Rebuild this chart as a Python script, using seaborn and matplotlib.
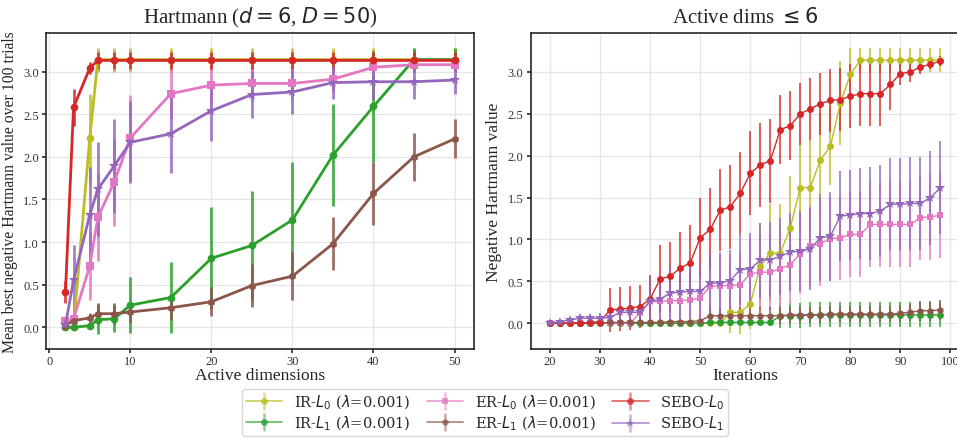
import numpy as np
import pandas as pd
import matplotlib
matplotlib.use("Agg")
import matplotlib.pyplot as plt
from matplotlib.lines import Line2D
from matplotlib.legend_handler import HandlerTuple
import seaborn as sns

# ---------------- data: sweep over active dimensions ----------------
dims = [2, 3, 5, 6, 8, 10, 15, 20, 25, 30, 35, 40, 45, 50]

ir_l0_dims = [0.0, 0.0, 2.22, 3.14, 3.14, 3.14, 3.14, 3.14, 3.14, 3.14, 3.14, 3.14, 3.14, 3.14]
ir_l0_dims_err = [0.01, 0.01, 0.52, 0.14, 0.14, 0.14, 0.14, 0.14, 0.14, 0.14, 0.14, 0.14, 0.14, 0.14]

ir_l1_dims = [0.0, 0.0, 0.02, 0.09, 0.10, 0.26, 0.35, 0.81, 0.96, 1.26, 2.02, 2.59, 3.14, 3.14]
ir_l1_dims_err = [0.01, 0.01, 0.03, 0.17, 0.16, 0.33, 0.42, 0.60, 0.64, 0.68, 0.60, 0.65, 0.14, 0.14]

er_l0_dims = [0.07, 0.10, 0.72, 1.29, 1.70, 2.22, 2.74, 2.84, 2.86, 2.86, 2.91, 3.05, 3.08, 3.08]
er_l0_dims_err = [0.03, 0.05, 0.40, 0.51, 0.51, 0.50, 0.30, 0.22, 0.20, 0.18, 0.14, 0.10, 0.08, 0.08]

er_l1_dims = [0.02, 0.08, 0.11, 0.16, 0.16, 0.18, 0.23, 0.30, 0.49, 0.60, 0.98, 1.57, 2.00, 2.21]
er_l1_dims_err = [0.02, 0.03, 0.06, 0.12, 0.12, 0.12, 0.14, 0.17, 0.25, 0.28, 0.31, 0.37, 0.28, 0.23]

sebo_l0_dims = [0.41, 2.58, 3.04, 3.13, 3.13, 3.13, 3.13, 3.13, 3.13, 3.13, 3.13, 3.13, 3.13, 3.13]
sebo_l0_dims_err = [0.13, 0.22, 0.07, 0.10, 0.10, 0.10, 0.10, 0.10, 0.10, 0.10, 0.10, 0.10, 0.10, 0.10]

sebo_l1_dims = [0.03, 0.55, 1.32, 1.62, 1.89, 2.17, 2.27, 2.54, 2.73, 2.76, 2.87, 2.88, 2.88, 2.90]
sebo_l1_dims_err = [0.03, 0.42, 0.56, 0.55, 0.55, 0.48, 0.46, 0.35, 0.28, 0.26, 0.19, 0.20, 0.20, 0.16]

# ---------------- data: optimisation trace, active dims <= 6 ----------------
iters = list(range(20, 100, 2))

ir_l0_iter = [0.0] * 18 + [0.13, 0.13, 0.23, 0.68, 0.84, 0.84, 1.14, 1.62, 1.62, 1.95,
                           2.11, 2.63, 2.97, 3.14, 3.14, 3.14, 3.14, 3.14, 3.14, 3.14, 3.14, 3.14]
ir_l0_iter_err = [0.01] * 18 + [0.25, 0.26, 0.30, 0.52, 0.58, 0.58, 0.62, 0.53, 0.58, 0.56,
                                0.46, 0.50, 0.32, 0.14, 0.14, 0.14, 0.14, 0.14, 0.14, 0.14, 0.14, 0.14]

ir_l1_iter = [0.0] * 16 + [0.01] * 7 + [0.09, 0.09, 0.09, 0.10, 0.10, 0.10, 0.10, 0.10, 0.10,
                                        0.10, 0.10, 0.10, 0.10, 0.10, 0.10, 0.10, 0.10]
ir_l1_iter_err = [0.01] * 16 + [0.02] * 7 + [0.15] * 17

er_l0_iter = [0.0, 0.0, 0.0, 0.0, 0.0, 0.0, 0.0, 0.0, 0.0, 0.13, 0.26, 0.26, 0.27, 0.27, 0.28,
              0.30, 0.44, 0.45, 0.45, 0.46, 0.59, 0.61, 0.61, 0.65, 0.70, 0.83, 0.92, 0.95, 1.01,
              1.02, 1.06, 1.06, 1.18, 1.18, 1.18, 1.18, 1.18, 1.26, 1.27, 1.29]
er_l0_iter_err = [0.01] * 9 + [0.15, 0.28, 0.28, 0.29, 0.30, 0.31, 0.32, 0.36, 0.36, 0.37, 0.38,
                               0.42, 0.44, 0.45, 0.46, 0.47, 0.48, 0.49, 0.50, 0.50, 0.50, 0.51,
                               0.51, 0.51, 0.51, 0.51, 0.51, 0.51, 0.51, 0.51, 0.51]

er_l1_iter = [0.0, 0.0, 0.0, 0.0, 0.0, 0.0, 0.01, 0.01, 0.01, 0.01, 0.01, 0.01, 0.02, 0.02, 0.02,
              0.03, 0.09, 0.09, 0.09, 0.09, 0.09, 0.09, 0.09, 0.09, 0.10, 0.10, 0.10, 0.10, 0.11,
              0.11, 0.11, 0.11, 0.11, 0.11, 0.11, 0.12, 0.13, 0.15, 0.15, 0.16]
er_l1_iter_err = [0.02] * 16 + [0.10] * 21 + [0.12, 0.12, 0.12]

sebo_l0_iter = [0.0, 0.0, 0.0, 0.0, 0.01, 0.02, 0.16, 0.17, 0.18, 0.20, 0.29, 0.53, 0.56, 0.66,
                0.72, 1.02, 1.12, 1.35, 1.39, 1.55, 1.79, 1.89, 1.94, 2.31, 2.36, 2.50, 2.56, 2.62,
                2.66, 2.67, 2.71, 2.74, 2.74, 2.74, 2.85, 2.98, 3.00, 3.06, 3.09, 3.13]
sebo_l0_iter_err = [0.01, 0.02, 0.02, 0.03, 0.03, 0.04, 0.26, 0.26, 0.26, 0.26, 0.29, 0.40, 0.41,
                    0.43, 0.45, 0.47, 0.49, 0.49, 0.50, 0.49, 0.50, 0.50, 0.50, 0.41, 0.41, 0.37,
                    0.37, 0.37, 0.38, 0.38, 0.38, 0.38, 0.38, 0.38, 0.31, 0.14, 0.12, 0.08, 0.06,
                    0.06]

sebo_l1_iter = [0.0, 0.02, 0.04, 0.06, 0.06, 0.06, 0.07, 0.13, 0.13, 0.13, 0.26, 0.29, 0.36, 0.37,
                0.38, 0.38, 0.48, 0.48, 0.51, 0.64, 0.65, 0.75, 0.76, 0.80, 0.85, 0.86, 0.89, 1.02,
                1.04, 1.28, 1.29, 1.31, 1.31, 1.34, 1.42, 1.42, 1.43, 1.43, 1.50, 1.62]
sebo_l1_iter_err = [0.01, 0.03, 0.04, 0.05, 0.05, 0.06, 0.10, 0.14, 0.15, 0.15, 0.30, 0.30, 0.32,
                    0.33, 0.33, 0.33, 0.35, 0.37, 0.37, 0.42, 0.43, 0.45, 0.45, 0.46, 0.47, 0.48,
                    0.49, 0.52, 0.53, 0.54, 0.54, 0.54, 0.55, 0.55, 0.55, 0.55, 0.55, 0.55, 0.56,
                    0.55]

labels = [r"IR-$L_0$ ($\lambda$=0.001)", r"IR-$L_1$ ($\lambda$=0.001)",
          r"ER-$L_0$ ($\lambda$=0.001)", r"ER-$L_1$ ($\lambda$=0.001)",
          r"SEBO-$L_0$", r"SEBO-$L_1$"]
colors = ["#bcbd22", "#2ca02c", "#e377c2", "#8c564b", "#d62728", "#9467bd"]
markers = ["o", "o", "s", "h", "o", "*"]

dims_series = [(ir_l0_dims, ir_l0_dims_err), (ir_l1_dims, ir_l1_dims_err),
               (er_l0_dims, er_l0_dims_err), (er_l1_dims, er_l1_dims_err),
               (sebo_l0_dims, sebo_l0_dims_err), (sebo_l1_dims, sebo_l1_dims_err)]
iter_series = [(ir_l0_iter, ir_l0_iter_err), (ir_l1_iter, ir_l1_iter_err),
               (er_l0_iter, er_l0_iter_err), (er_l1_iter, er_l1_iter_err),
               (sebo_l0_iter, sebo_l0_iter_err), (sebo_l1_iter, sebo_l1_iter_err)]

# ---------------- style ----------------
sns.set_theme(style="whitegrid", rc={
    "axes.edgecolor": "0.15",
    "axes.linewidth": 1.2,
    "grid.color": "0.9",
    "xtick.bottom": True,
    "ytick.left": True,
    "xtick.major.size": 3,
    "ytick.major.size": 3,
    "xtick.color": "0.2",
    "ytick.color": "0.2",
})
plt.rcParams["font.family"] = ["Liberation Serif", "DejaVu Serif"]
plt.rcParams["mathtext.fontset"] = "dejavusans"

fig = plt.figure(figsize=(9.57, 4.39), dpi=100)
W, H = 957, 439
ax1 = fig.add_axes([46 / W, (H - 349.5) / H, (474 - 46) / W, (349.5 - 34.3) / H])
ax2 = fig.add_axes([530.5 / W, (H - 349.5) / H, (960 - 530.5) / W, (349.5 - 34.3) / H])


def draw(ax, x, series, lw, ms, elw, ealpha):
    for (y, err), c, m in zip(series, colors, markers):
        df = pd.DataFrame({"x": x, "y": y})
        ax.errorbar(x, y, yerr=err, fmt="none", ecolor=c, elinewidth=elw,
                    alpha=ealpha, capsize=0, zorder=2)
        sns.lineplot(data=df, x="x", y="y", ax=ax, color=c, marker=m,
                     markersize=ms * (1.4 if m == "*" else 1.0), markeredgewidth=0,
                     linewidth=lw, zorder=3)


draw(ax1, dims, dims_series, lw=2.0, ms=5.5, elw=2.0, ealpha=0.85)
draw(ax2, iters, iter_series, lw=1.0, ms=5, elw=1.4, ealpha=0.75)

ax1.set_title(r"Hartmann ($d=6$, $D=50$)", fontsize=15, pad=8)
ax1.set_xlabel("Active dimensions", fontsize=12.5, labelpad=0)
ax1.set_ylabel("Mean best negative Hartmann value over 100 trials", fontsize=11.3, labelpad=4)
ax1.set_xticks([0, 10, 20, 30, 40, 50])
ax1.set_yticks([0.0, 0.5, 1.0, 1.5, 2.0, 2.5, 3.0])

ax2.set_title(r"Active dims $\leq 6$", fontsize=15, pad=8)
ax2.set_xlabel("Iterations", fontsize=12.5, labelpad=0)
ax2.set_ylabel("Negative Hartmann value", fontsize=12.5, labelpad=4)
ax2.set_xticks([20, 30, 40, 50, 60, 70, 80, 90, 100])
ax2.set_yticks([0.0, 0.5, 1.0, 1.5, 2.0, 2.5, 3.0])

for ax in (ax1, ax2):
    ax.tick_params(labelsize=9, pad=2)
    ax.set_yticklabels([f"{v:.1f}" for v in ax.get_yticks()])
    for s in ax.spines.values():
        s.set_visible(True)
        s.set_color("0.15")
ax1.set_xlim(-0.4, 52.4)
ax2.set_xlim(16.1, 101.9)

handles = []
for c, m in zip(colors, markers):
    bar = Line2D([], [], color=c, marker="|", markersize=13, markeredgewidth=1.8,
                 linestyle="none", alpha=0.5)
    line = Line2D([], [], color=c, marker=m, markersize=5 if m != "*" else 6.5,
                  markeredgewidth=0, linewidth=1.2, alpha=0.75)
    handles.append((bar, line))
fig.legend(handles, labels, handler_map={tuple: HandlerTuple(ndivide=1)},
           loc="lower center", bbox_to_anchor=(0.507, -0.012), ncol=3,
           prop={"family": "DejaVu Serif", "size": 10.5}, frameon=True,
           columnspacing=1.1, handlelength=2.5, handletextpad=0.8,
           labelspacing=0.18, borderpad=0.25, edgecolor="0.8", fancybox=True)

fig.savefig("out.png", dpi=100)
